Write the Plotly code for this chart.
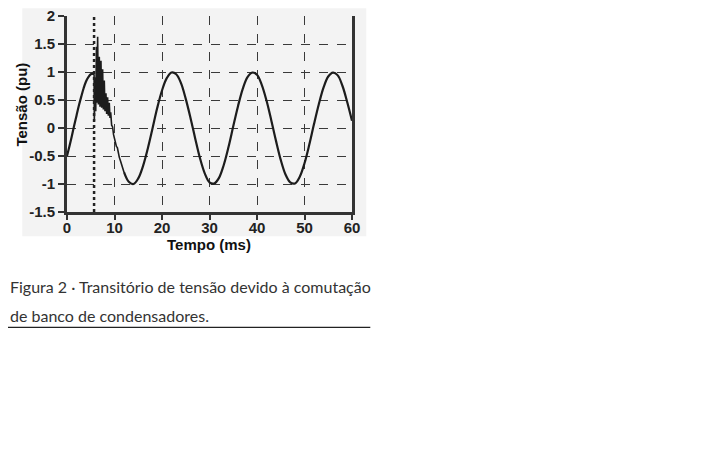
import plotly.graph_objects as go

# ---------------- data ----------------
switch_time = 5.7  # ms, capacitor bank switching instant (dotted line)

pre_t = [0, 0.5, 1, 1.5, 2, 2.5, 3, 3.5, 4, 4.5, 5, 5.5]
pre_v = [-0.5, -0.33, -0.15, 0.04, 0.22, 0.40, 0.56, 0.71, 0.83, 0.91, 0.96, 0.97]

trans_t = [5.5, 5.7, 5.75, 5.95, 6.05, 6.2, 6.3, 6.45, 6.6, 6.8, 6.95, 7.15, 7.3,
           7.5, 7.65, 7.85, 8.0, 8.2, 8.35, 8.55, 8.7, 8.9, 9.05, 9.2, 9.4, 9.6,
           9.8, 10.0, 10.2, 10.4, 10.6, 10.8, 11.0, 11.3, 11.6, 12.0]
trans_v = [0.97, 0.95, 0.12, 0.9, 0.3, 1.45, 0.45, 1.63, 0.42, 1.27, 0.38, 1.2, 0.36,
           1.05, 0.33, 0.85, 0.3, 0.62, 0.25, 0.55, 0.22, 0.45, 0.18, 0.28, 0.05, 0.02,
           -0.12, -0.2, -0.22, -0.33, -0.35, -0.45, -0.52, -0.6, -0.7, -0.79]

post_t = [12, 13, 14, 15, 16, 17, 18, 19, 20, 21, 22, 23, 24, 25, 26, 27, 28, 29,
          30, 31, 32, 33, 34, 35, 36, 37, 38, 39, 40, 41, 42, 43, 44, 45, 46, 47,
          48, 49, 50, 51, 52, 53, 54, 55, 56, 57, 58, 59, 60]
post_v = [-0.79, -0.96, -1.0, -0.9, -0.68, -0.37, -0.01, 0.36, 0.67, 0.89, 0.99,
          0.96, 0.8, 0.52, 0.18, -0.19, -0.54, -0.81, -0.97, -0.99, -0.89, -0.66,
          -0.34, 0.03, 0.39, 0.7, 0.91, 0.99, 0.95, 0.77, 0.49, 0.14, -0.23, -0.57,
          -0.83, -0.97, -0.99, -0.87, -0.63, -0.3, 0.07, 0.42, 0.72, 0.92, 0.99,
          0.94, 0.75, 0.46, 0.13]

x_ticks = [0, 10, 20, 30, 40, 50, 60]
x_ticktext = ["0", "10", "20", "30", "40", "50", "60"]
y_ticks = [2, 1.5, 1, 0.5, 0, -0.5, -1, -1.5]
y_ticktext = ["2", "1.5", "1", "0.5", "0", "-0.5", "-1", "-1.5"]

x_title = "Tempo (ms)"
y_title = "Tensão (pu)"
caption_1 = "Figura 2 · Transitório de tensão devido à comutação"
caption_2 = "de banco de condensadores."

# ---------------- layout geometry (screen pixels) ----------------
W, H = 720, 450
OFF = 8  # default page body margin
PLOT_L, PLOT_R, PLOT_T, PLOT_B = 66.7, 351.7, 15.7, 211.7
ML = PLOT_L - OFF
MT = PLOT_T - OFF
MR = W - (PLOT_R - OFF)
MB = H - (PLOT_B - OFF)
PW, PH = PLOT_R - PLOT_L, PLOT_B - PLOT_T


def px(xp):
    return (xp - PLOT_L) / PW


def py(yp):
    return (PLOT_B - yp) / PH


LINE = "#1c1c1c"
GRID = "#3a3a3a"
FONT = "Liberation Sans, Arial, sans-serif"

fig = go.Figure()
for tt, vv, shape, lw in [(pre_t, pre_v, "spline", 2.2), (trans_t, trans_v, "linear", 1.6),
                          (post_t, post_v, "spline", 2.2)]:
    fig.add_trace(go.Scatter(x=tt, y=vv, mode="lines",
                             line=dict(color=LINE, width=lw, shape=shape),
                             showlegend=False, hoverinfo="skip"))

fig.add_vline(x=switch_time, line=dict(color="#222", width=2.5, dash="dot"))

axis_common = dict(
    zeroline=False, showline=True, linecolor="#333", linewidth=3,
    ticks="outside", tickwidth=2, tickcolor="#333",
    tickfont=dict(family=FONT, size=15, color="#222", weight="bold"),
    automargin=False, ticklabeloverflow="allow",
)

fig.update_xaxes(range=[0, 60], tickvals=x_ticks, ticktext=x_ticktext,
                 showgrid=True, gridcolor=GRID, gridwidth=1, griddash="dash",
                 mirror=False, ticklen=5, ticklabelstandoff=-5, **axis_common)
fig.update_yaxes(range=[-1.5, 2], tickvals=y_ticks, ticktext=y_ticktext,
                 showgrid=False,
                 minor=dict(tickvals=y_ticks[1:-1], ticks="", showgrid=True,
                            gridcolor=GRID, gridwidth=1, griddash="dash"),
                 mirror=True, ticklen=6, **axis_common)

fig.add_annotation(text=x_title, xref="paper", yref="paper",
                   x=px(209), y=py(244), showarrow=False,
                   xanchor="center", yanchor="middle",
                   font=dict(family=FONT, size=15, color="#111", weight="bold"))
fig.add_annotation(text=y_title, xref="paper", yref="paper",
                   x=px(21), y=py(104), showarrow=False, textangle=-90,
                   xanchor="center", yanchor="middle",
                   font=dict(family=FONT, size=15, color="#111", weight="bold"))

CAP_FONT = dict(family="Lato, Liberation Sans, sans-serif", size=16, color="#333")
fig.add_annotation(text=caption_1, xref="paper", yref="paper",
                   x=px(8), y=py(286), showarrow=False,
                   xanchor="left", yanchor="middle", font=CAP_FONT)
fig.add_annotation(text=caption_2, xref="paper", yref="paper",
                   x=px(8), y=py(315), showarrow=False,
                   xanchor="left", yanchor="middle", font=CAP_FONT)

# light grey backdrop of the chart image and the caption rule
fig.add_shape(type="rect", xref="paper", yref="paper",
              x0=px(22), x1=px(366), y0=py(236), y1=py(8),
              fillcolor="#f3f3f3", line=dict(width=0), layer="below")
fig.add_shape(type="line", xref="paper", yref="paper",
              x0=px(7), x1=px(370), y0=py(327), y1=py(327),
              line=dict(color="#222", width=1.3))

fig.update_layout(width=W, height=H,
                  margin=dict(l=ML, r=MR, t=MT, b=MB, pad=0, autoexpand=False),
                  paper_bgcolor="white", plot_bgcolor="white",
                  showlegend=False)

fig.write_html("out.html", config={"displayModeBar": False})
